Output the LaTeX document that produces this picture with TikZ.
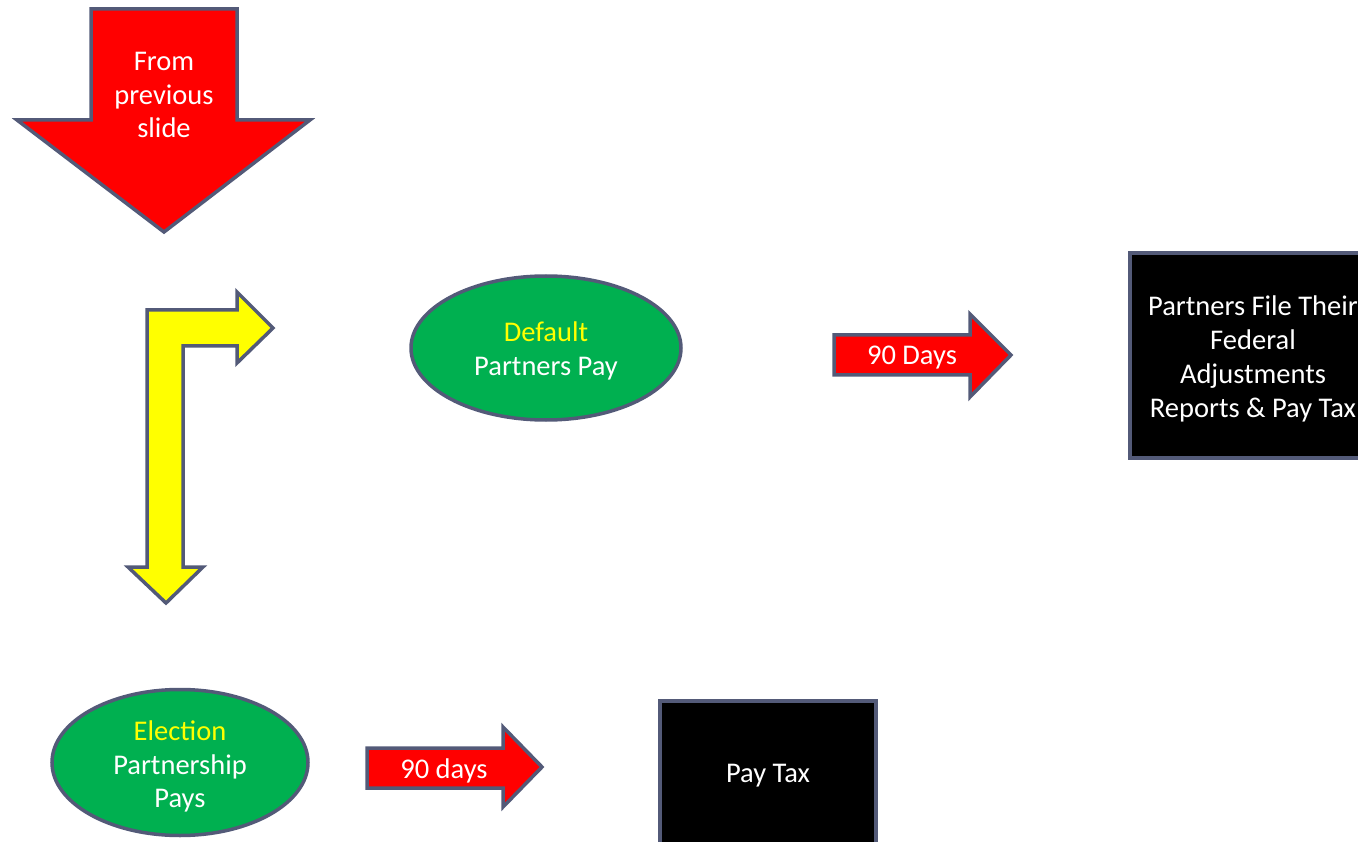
\documentclass[tikz,border=0pt]{standalone}
\usepackage{fontspec}
\setmainfont{Carlito}
\usetikzlibrary{shapes.geometric}
\definecolor{edgec}{RGB}{83,90,120}
\definecolor{redf}{RGB}{255,0,0}
\definecolor{greenf}{RGB}{0,176,80}
\definecolor{yellowf}{RGB}{255,255,0}
\tikzset{
  shp/.style={draw=edgec, line width=3.5pt, line join=miter},
  txt/.style={text=white, font=\fontsize{28.5}{33.8}\selectfont, align=center, inner sep=0pt},
  ell/.style={shp, ellipse, fill=greenf, inner sep=0pt},
  blk/.style={shp, fill=black, inner sep=0pt},
}
\begin{document}
\begin{tikzpicture}[x=1pt,y=-1pt]
\useasboundingbox (0,0) rectangle (1358,842);
\clip (0,0) rectangle (1358,842);
% red down arrow
\draw[shp, fill=redf] (91,9) -- (237,9) -- (237,120) -- (310,120) -- (164,232) -- (17,120) -- (91,120) -- cycle;
\node[txt] (from) at (164,95) {From\\previous\\slide};
% yellow bent arrow
\draw[shp, fill=yellowf] (147,310) -- (237,310) -- (237,292) -- (273,328) -- (237,363) -- (237,346) -- (183,346) -- (183,567) -- (203,567) -- (166,603) -- (128,567) -- (147,567) -- cycle;
% default ellipse
\node[ell, minimum width=270pt, minimum height=144pt] (def) at (546,348) {};
\node[txt] (deft) at (546,351) {\textcolor{yellowf}{Default}\\Partners Pay};
% 90 Days arrow
\draw[shp, fill=redf] (834,335) -- (970,335) -- (970,314) -- (1011,355) -- (970,397) -- (970,375) -- (834,375) -- cycle;
\node[txt] (d90) at (912,358) {90 Days};
% partners box
\node[blk, minimum width=246pt, minimum height=205pt] (pbox) at (1253,355.5) {};
\node[txt] (pboxt) at (1253,359) {Partners File Their\\Federal\\Adjustments\\Reports \& Pay Tax};
% election ellipse
\node[ell, minimum width=256pt, minimum height=146pt] (ele) at (180,762.5) {};
\node[txt] (elet) at (180,766.5) {\textcolor{yellowf}{Election}\\Partnership\\Pays};
% 90 days arrow
\draw[shp, fill=redf] (367,748) -- (503,748) -- (503,727) -- (542,767) -- (503,807) -- (503,788) -- (367,788) -- cycle;
\node[txt] (d90b) at (444,771) {90 days};
% pay tax box
\node[blk, minimum width=216pt, minimum height=150pt] (tbox) at (768,776) {};
\node[txt] (tboxt) at (768,776) {Pay Tax};
\end{tikzpicture}
\end{document}
